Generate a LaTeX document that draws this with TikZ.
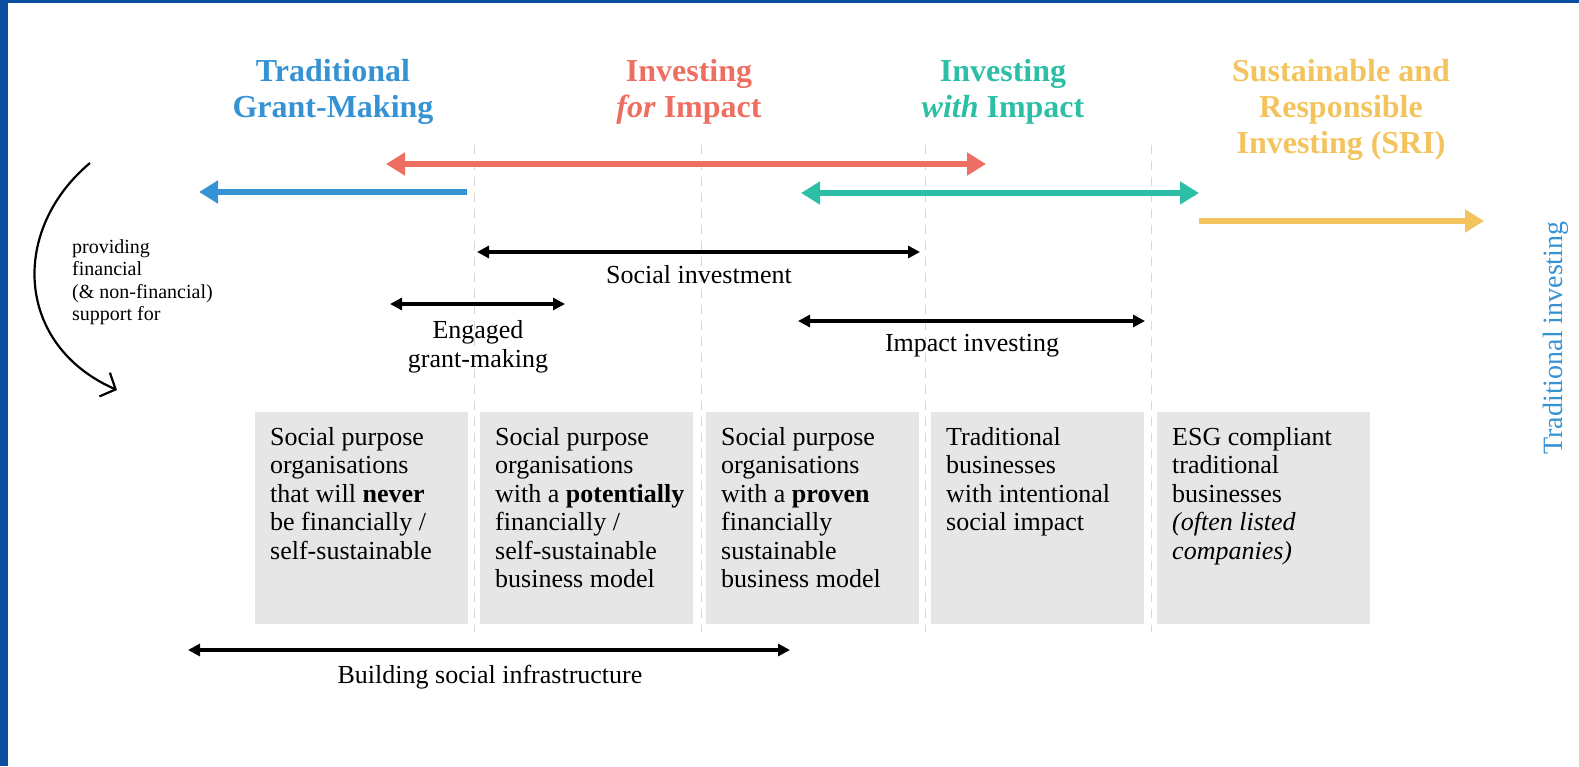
\documentclass[tikz,border=0pt]{standalone}
\usepackage{fontspec}
\setmainfont{Liberation Serif}
\usetikzlibrary{arrows.meta}
\definecolor{gmblue}{HTML}{3592D3}
\definecolor{fiired}{HTML}{EE6F61}
\definecolor{witeal}{HTML}{2DBFA5}
\definecolor{sriyellow}{HTML}{F3C45E}
\definecolor{boxgray}{HTML}{E6E6E6}
\definecolor{frameblue}{HTML}{0B4EA2}
\begin{document}
\begin{tikzpicture}[x=1pt,y=-1pt, line join=round,
    title/.style={font=\fontsize{32}{36}\selectfont\bfseries, align=center, anchor=north, inner sep=0},
    spanlbl/.style={font=\fontsize{26}{28.5}\selectfont, align=center, inner sep=0},
    cattext/.style={font=\fontsize{26}{28.5}\selectfont, align=left, anchor=north west, inner sep=0},
    catbox/.style={fill=boxgray, minimum width=213, minimum height=212, inner sep=0, anchor=north west},
    fat/.style={line width=5.5pt},
    fattip/.tip={Triangle[length=19pt,width=22pt]},
    spanarrow/.style={line width=3.2pt, {Triangle[length=12pt,width=12pt]}-{Triangle[length=12pt,width=12pt]}},
    divider/.style={draw=black!15, line width=1pt, dash pattern=on 9pt off 7pt}]
    \useasboundingbox (0,0) rectangle (1579,766);
    \fill[frameblue] (0,0) rectangle (8,766);
    \fill[frameblue] (0,0) rectangle (1579,3);
    \foreach \x in {474,701,925,1151} \draw[divider] (\x,145)--(\x,632);
    \node[title, text=gmblue] (tgm) at (333,59) {Traditional\\Grant-Making};
    \node[title, text=fiired] (ifi) at (689,59) {Investing\\\textit{for} Impact};
    \node[title, text=witeal] (iwi) at (1003,59) {Investing\\\textit{with} Impact};
    \node[title, text=sriyellow] (sri) at (1341,59) {Sustainable and\\Responsible\\Investing (SRI)};
    \draw[fat, fiired, fattip-fattip] (386,164)--(986,164);
    \draw[fat, gmblue, -fattip] (467,192)--(199,192);
    \draw[fat, witeal, fattip-fattip] (801,193)--(1199,193);
    \draw[fat, sriyellow, -fattip] (1199,221)--(1484,221);
    \draw[spanarrow] (477,252)--(920,252);
    \node[spanlbl] (socinv) at (699,275) {Social investment};
    \draw[spanarrow] (390,304)--(565,304);
    \node[spanlbl] (engaged) at (478,347) {Engaged\\grant-making};
    \draw[spanarrow] (798,321)--(1145,321);
    \node[spanlbl] (impinv) at (972,346) {Impact investing};
    \draw[line width=2.2pt, -{Straight Barb[length=12pt,width=26pt]}] (90,163) .. controls (10,230) and (15,345) .. (117,390);
    \node[font=\fontsize{20}{22.5}\selectfont, align=left, anchor=north west, inner sep=0] (support) at (72,239) {providing\\financial\\(\& non-financial)\\support for};
    \foreach \i/\x in {1/255,2/480,3/706,4/931,5/1157} \node[catbox] (box\i) at (\x,412) {};
    \node[cattext] (txt1) at ([shift={(15,15)}]box1.north west) {Social purpose\\organisations\\that will \textbf{never}\\be financially /\\self-sustainable};
    \node[cattext] (txt2) at ([shift={(15,15)}]box2.north west) {Social purpose\\organisations\\with a \textbf{potentially}\\financially /\\self-sustainable\\business model};
    \node[cattext] (txt3) at ([shift={(15,15)}]box3.north west) {Social purpose\\organisations\\with a \textbf{proven}\\financially\\sustainable\\business model};
    \node[cattext] (txt4) at ([shift={(15,15)}]box4.north west) {Traditional\\businesses\\with intentional\\social impact};
    \node[cattext] (txt5) at ([shift={(15,15)}]box5.north west) {ESG compliant\\traditional\\businesses\\\textit{(often listed}\\\textit{companies)}};
    \draw[spanarrow] (188,650)--(790,650);
    \node[spanlbl] (building) at (490,677) {Building social infrastructure};
    \node[rotate=90, text=gmblue, font=\fontsize{28}{30}\selectfont, inner sep=0] (tradinv) at (1556,338) {Traditional investing};
\end{tikzpicture}
\end{document}
